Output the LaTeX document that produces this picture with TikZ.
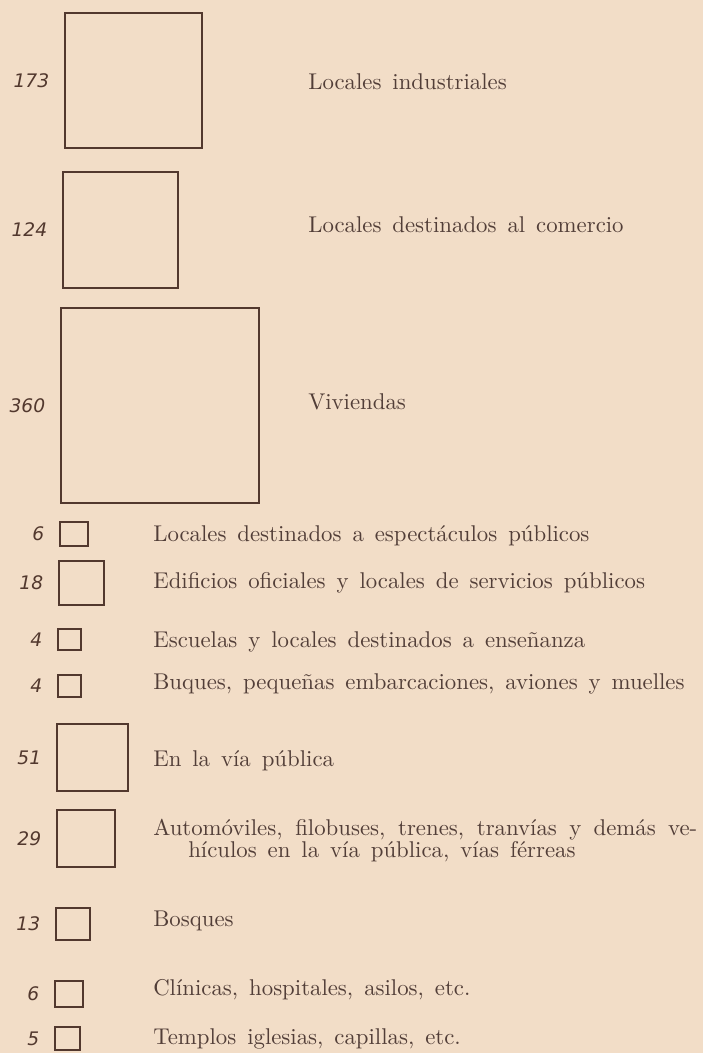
\documentclass[tikz,border=0pt]{standalone}
\usepackage{fontspec}
\usepackage{tikz}
\usetikzlibrary{positioning}

\newfontfamily\cifrafont{DejaVu Sans}
\newfontfamily\rotulofont{lmroman10-regular}[Extension=.otf]
\definecolor{papel}{RGB}{242,221,199}
\definecolor{tinta}{RGB}{82,56,46}
\definecolor{letra}{RGB}{82,62,56}

\begin{document}
\begin{tikzpicture}[x=0.75pt, y=-0.75pt,
  cuadro/.style={draw=tinta, line width=1.3pt, inner sep=0pt},
  cifra/.style={inner sep=0pt, text=tinta, font={\cifrafont\itshape\fontsize{14}{14}\selectfont}},
  rotulo/.style={inner sep=0pt, anchor=base west, text=letra,
    font={\rotulofont\fontsize{17.1}{16.5}\selectfont\spaceskip=0.48em plus 0.2em\relax}}]

  % Paper
  \fill[papel] (0,0) rectangle (703,1053);
  \useasboundingbox (0,0) rectangle (703,1053);

  \def\px{0.75pt}

  % Draw the squares and their numbers
  \foreach \n/\cx/\cy/\w/\h/\v in {1/133.5/80.5/137/135/173, 2/120.5/230/115/116/124,
      3/160/405.5/198/195/360, 4/74/534/28/24/6, 5/81.5/583/45/44/18,
      6/69.5/639.5/23/21/4, 7/69.5/686/23/22/4, 8/92.5/757.5/71/67/51,
      9/86/838.5/58/57/29, 10/73/924/34/32/13, 11/69/994/28/26/6,
      12/67.5/1038.5/25/23/5} {
    \node[cuadro, minimum width=\w*\px, minimum height=\h*\px] (b\n) at (\cx,\cy) {};
    \node[cifra, left=11pt of b\n] (c\n) {\v};
  }

  % Draw the labels
  \foreach \n/\tx/\ty/\texto in {1/308/89/{Locales industriales},
      2/308/232/{Locales destinados al comercio},
      3/308/409/{Viviendas},
      4/153/541/{Locales destinados a espectáculos públicos},
      5/153/588/{Edificios oficiales y locales de servicios públicos},
      6/153/647/{Escuelas y locales destinados a enseñanza},
      7/153/689/{Buques, pequeñas embarcaciones, aviones y muelles},
      8/153/766/{En la vía pública},
      10/153/926/{Bosques},
      11/153/995/{Clínicas, hospitales, asilos, etc.},
      12/153/1044/{Templos iglesias, capillas, etc.}} {
    \node[rotulo] (t\n) at (\tx,\ty) {\texto};
  }
  \node[rotulo] (t9) at (153,835) {\makebox[408pt][s]{Automóviles, filobuses, trenes, tranvías y demás ve-}};
  \node[rotulo] (t9b) at (188,857) {hículos en la vía pública, vías férreas};

\end{tikzpicture}
\end{document}
